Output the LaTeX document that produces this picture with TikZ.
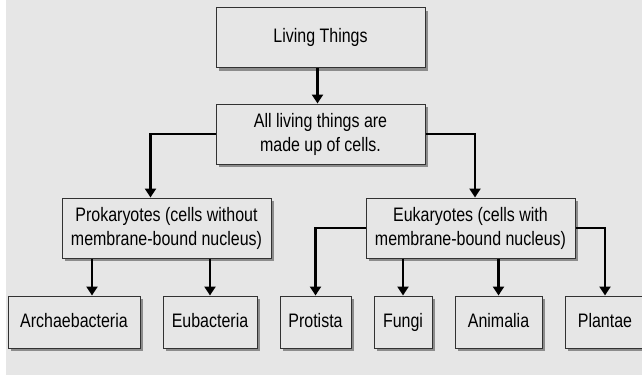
\documentclass[tikz,border=0pt]{standalone}
\usepackage{fontspec}
\setmainfont[FakeStretch=0.82]{Liberation Sans}
\usetikzlibrary{arrows.meta,positioning,shadows}
\definecolor{panelgrey}{RGB}{230,230,230}
\definecolor{shadowgrey}{RGB}{140,140,140}
\definecolor{edgegrey}{RGB}{50,50,50}
\tikzset{
  base/.style={font=\fontsize{19.5}{24}\selectfont, align=center, inner sep=2pt, text=black},
  box/.style={base, rectangle, draw=edgegrey, fill=panelgrey, line width=1pt,
    drop shadow={shadow xshift=3pt, shadow yshift=-3pt, fill=shadowgrey, opacity=1}},
  topbox/.style={box, minimum width=209pt, minimum height=60pt},
  leafbox/.style={box, minimum height=52pt, text height=14pt, text depth=4pt},
  arr/.style={-{Triangle[length=9pt,width=11pt]}, line width=2.2pt, draw=black},
}

\begin{document}
\begin{tikzpicture}[x=1pt,y=-1pt]
  \useasboundingbox (0,0) rectangle (642,375);
  \fill[panelgrey] (6,0) rectangle (642,375);
  % top of the tree
  \node[topbox] (living) at (320.5,37.5) {Living Things};
  \node[topbox] (cells) at (320.5,134) {All living things are\\made up of cells.};
  \node[topbox] (prok) at (166.5,228) {Prokaryotes (cells without\\membrane-bound nucleus)};
  \node[topbox] (euk) at (470.5,228) {Eukaryotes (cells with\\membrane-bound nucleus)};
  % kingdoms
  \foreach \n/\x/\w/\t in {arch/74/132/Archaebacteria, eub/210/94/Eubacteria, prot/315.5/71/Protista,
     fungi/403/58/Fungi, anim/498.5/87/Animalia, plant/605/80/Plantae}{
    \node[leafbox, minimum width=\w pt] (\n) at (\x,322) {\t};
  }
  % connectors
  \draw[arr] ([xshift=-3pt]living.south) -- ([xshift=-3pt]cells.north);
  \draw[arr] (cells.west) -| ([xshift=-16pt]prok.north);
  \draw[arr] (cells.east) -| ([xshift=4.5pt]euk.north);
  \draw[arr] ([xshift=18pt]arch.north |- prok.south) -- ([xshift=18pt]arch.north);
  \draw[arr] (eub.north |- prok.south) -- (eub);
  \draw[arr] (euk.west) -| (prot);
  \draw[arr] (fungi.north |- euk.south) -- (fungi);
  \draw[arr] (anim.north |- euk.south) -- (anim);
  \draw[arr] (euk.east) -| (plant);
\end{tikzpicture}
\end{document}
